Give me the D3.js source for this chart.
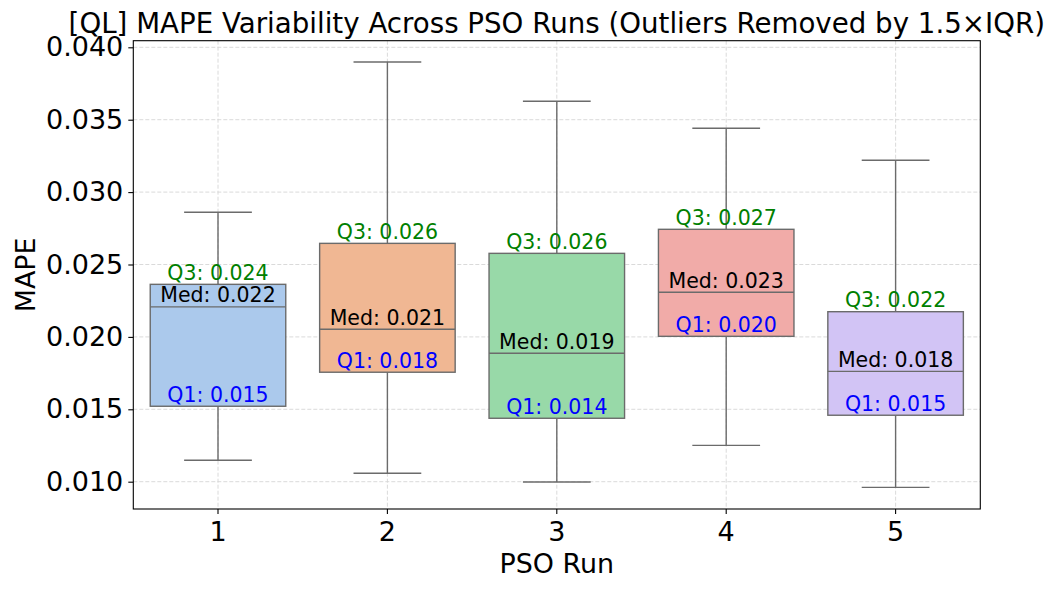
<!DOCTYPE html>
<html>
<head>
<meta charset="utf-8">
<script src="https://cdn.jsdelivr.net/npm/d3@7"></script>
<style>
  html, body { margin: 0; padding: 0; background: #fff; }
  svg { display: block; font-family: "DejaVu Sans", sans-serif; }
</style>
</head>
<body>
<svg id="chart" width="1056" height="590"></svg>
<script>
const runs = ["1", "2", "3", "4", "5"];
const whiskerLow  = [0.01148, 0.01058, 0.00998, 0.01251, 0.00961];
const q1          = [0.01521, 0.01756, 0.01438, 0.02004, 0.01459];
const median      = [0.02207, 0.02053, 0.01887, 0.02308, 0.01762];
const q3          = [0.02363, 0.02646, 0.02577, 0.02743, 0.02174];
const whiskerHigh = [0.02861, 0.03899, 0.03627, 0.03441, 0.03220];
const yTicks = [0.010, 0.015, 0.020, 0.025, 0.030, 0.035, 0.040];
const boxColors = ["#abc9ec", "#f0b793", "#98d9a8", "#f1aba8", "#d2c4f5"];

const title = "[QL] MAPE Variability Across PSO Runs (Outliers Removed by 1.5×IQR)";
const xTitle = "PSO Run";
const yTitle = "MAPE";

const m = { left: 133.3, right: 980.3, top: 40.7, bottom: 509 };
const svg = d3.select("#chart");

const x = d3.scaleBand().domain(runs).range([m.left, m.right]).paddingInner(0).paddingOuter(0);
const y = d3.scaleLinear().domain([0.008114, 0.040456]).range([m.bottom, m.top]);

const lineCol = "#6b6b6b";
const gridCol = "#d6d6d6";

// grid
const grid = svg.append("g");
grid.selectAll(".hg").data(yTicks).join("line")
  .attr("x1", m.left).attr("x2", m.right)
  .attr("y1", d => y(d)).attr("y2", d => y(d))
  .attr("stroke", gridCol).attr("stroke-width", 0.9).attr("stroke-dasharray", "4,2");
grid.selectAll(".vg").data(runs).join("line")
  .attr("x1", d => x(d) + x.bandwidth() / 2).attr("x2", d => x(d) + x.bandwidth() / 2)
  .attr("y1", m.top).attr("y2", m.bottom)
  .attr("stroke", gridCol).attr("stroke-width", 0.9).attr("stroke-dasharray", "4,2");

// boxes
const data = runs.map((r, i) => ({ r, i, lo: whiskerLow[i], q1: q1[i], med: median[i], q3: q3[i], hi: whiskerHigh[i] }));
const bw = x.bandwidth() * 0.8;
const g = svg.append("g");
data.forEach(d => {
  const cx = x(d.r) + x.bandwidth() / 2;
  const gg = g.append("g");
  gg.append("line").attr("x1", cx).attr("x2", cx).attr("y1", y(d.q3)).attr("y2", y(d.hi))
    .attr("stroke", lineCol).attr("stroke-width", 1.4);
  gg.append("line").attr("x1", cx).attr("x2", cx).attr("y1", y(d.q1)).attr("y2", y(d.lo))
    .attr("stroke", lineCol).attr("stroke-width", 1.4);
  gg.append("line").attr("x1", cx - bw / 4).attr("x2", cx + bw / 4).attr("y1", y(d.hi)).attr("y2", y(d.hi))
    .attr("stroke", lineCol).attr("stroke-width", 1.4);
  gg.append("line").attr("x1", cx - bw / 4).attr("x2", cx + bw / 4).attr("y1", y(d.lo)).attr("y2", y(d.lo))
    .attr("stroke", lineCol).attr("stroke-width", 1.4);
  gg.append("rect").attr("x", cx - bw / 2).attr("width", bw)
    .attr("y", y(d.q3)).attr("height", y(d.q1) - y(d.q3))
    .attr("fill", boxColors[d.i]).attr("stroke", lineCol).attr("stroke-width", 1.4);
  gg.append("line").attr("x1", cx - bw / 2).attr("x2", cx + bw / 2).attr("y1", y(d.med)).attr("y2", y(d.med))
    .attr("stroke", lineCol).attr("stroke-width", 1.4);
});

// annotations
const ann = svg.append("g").attr("font-size", 20.5).attr("text-anchor", "middle");
data.forEach(d => {
  const cx = x(d.r) + x.bandwidth() / 2;
  ann.append("text").attr("x", cx).attr("y", y(d.q3) - 4.5).attr("fill", "#008000").text("Q3: " + d.q3.toFixed(3));
  ann.append("text").attr("x", cx).attr("y", y(d.med) - 4.5).attr("fill", "#000").text("Med: " + d.med.toFixed(3));
  ann.append("text").attr("x", cx).attr("y", y(d.q1) - 4.5).attr("fill", "#0000ff").text("Q1: " + d.q1.toFixed(3));
});

// frame
svg.append("rect").attr("x", m.left).attr("y", m.top).attr("width", m.right - m.left).attr("height", m.bottom - m.top)
  .attr("fill", "none").attr("stroke", "#000").attr("stroke-width", 1.1);

// axes
const xAxis = svg.append("g").attr("transform", `translate(0,${m.bottom})`)
  .call(d3.axisBottom(x).tickSize(5).tickPadding(5));
const yAxis = svg.append("g").attr("transform", `translate(${m.left},0)`)
  .call(d3.axisLeft(y).tickValues(yTicks).tickFormat(d3.format(".3f")).tickSize(5).tickPadding(5));
[xAxis, yAxis].forEach(a => {
  a.select(".domain").remove();
  a.selectAll("text").attr("font-size", 27).attr("fill", "#000").attr("font-family", "DejaVu Sans");
  a.selectAll("line").attr("stroke", "#000").attr("stroke-width", 1.1);
});
xAxis.selectAll("text").attr("dy", "0.8em");

// titles
const t = svg.append("text").attr("x", (m.left + m.right) / 2).attr("y", 33)
  .attr("text-anchor", "middle").attr("font-size", 29.5).attr("fill", "#000").text(title);
const tl = t.node().getComputedTextLength();
t.attr("font-size", 29.5 * 977 / tl);

svg.append("text").attr("x", (m.left + m.right) / 2).attr("y", 572.7)
  .attr("text-anchor", "middle").attr("font-size", 26.9).attr("fill", "#000").text(xTitle);
svg.append("text").attr("transform", `translate(35,${(m.top + m.bottom) / 2}) rotate(-90)`)
  .attr("text-anchor", "middle").attr("font-size", 26.9).attr("fill", "#000").text(yTitle);
</script>
</body>
</html>
